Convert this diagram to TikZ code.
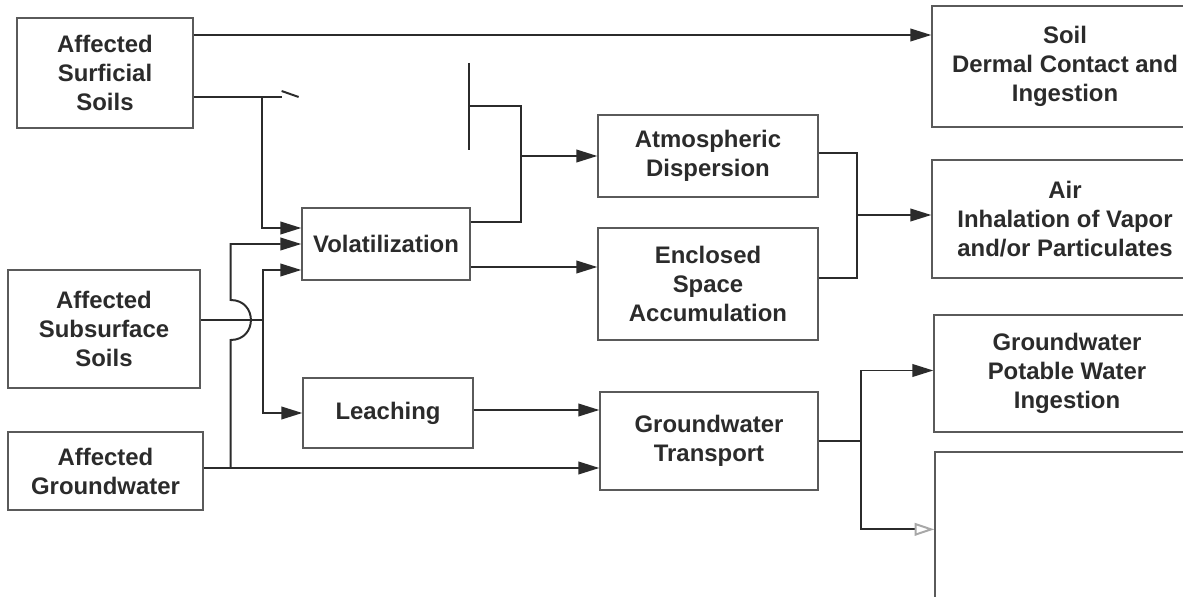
\documentclass[tikz,border=0pt]{standalone}
\usepackage{fontspec}
\setmainfont{Liberation Sans}
\usetikzlibrary{arrows.meta,calc}
\definecolor{Ink}{HTML}{2B2B2B}
\definecolor{Frame}{HTML}{5A5A5A}
\definecolor{Faded}{HTML}{A8A8A8}
\tikzset{
  box/.style={draw=Frame,line width=0.9pt,font=\bfseries\fontsize{17}{20.6}\selectfont,text=Ink,align=center,inner sep=0pt},
  link/.style={draw=Ink,line width=1.4pt},
  flow/.style={link,-{Triangle[length=15pt,width=9pt]}},
  fadeflow/.style={link,-{Triangle[open,length=14pt,width=9pt,color=Faded]}},
}

\begin{document}
\begin{tikzpicture}[x=0.025cm,y=-0.025cm,line join=miter]

% Page
\fill[white] (0,0) rectangle (1183,597);
\useasboundingbox (0,0) rectangle (1183,597);

% Sources
\node[box,minimum width=4.40cm,minimum height=2.75cm] (surf) at (105,73)
  {Affected\\Surficial\\Soils};
\node[box,minimum width=4.80cm,minimum height=2.95cm] (subs) at (104,329)
  {Affected\\Subsurface\\Soils};
\node[box,minimum width=4.875cm,minimum height=1.95cm] (affgw) at (105.5,471)
  {Affected\\Groundwater};

% Release mechanisms
\node[box,minimum width=4.20cm,minimum height=1.80cm] (vol) at (386,244) {Volatilization};
\node[box,minimum width=4.25cm,minimum height=1.75cm] (leach) at (388,413) {Leaching};

% Transport
\node[box,minimum width=5.50cm,minimum height=2.05cm] (atm) at (708,156)
  {Atmospheric\\Dispersion};
\node[box,minimum width=5.50cm,minimum height=2.80cm] (encl) at (708,284)
  {Enclosed\\Space\\Accumulation};
\node[box,minimum width=5.45cm,minimum height=2.45cm] (gwt) at (709,441)
  {Groundwater\\Transport};

% Exposure pathways (right column runs off the page)
\node[box,minimum width=6.65cm,minimum height=3.025cm] (soil) at (1065,66.5)
  {Soil\\Dermal Contact and\\Ingestion};
\node[box,minimum width=6.65cm,minimum height=2.95cm] (air) at (1065,219)
  {Air\\Inhalation of Vapor\\and/or Particulates};
\node[box,minimum width=6.65cm,minimum height=2.925cm] (gwpot) at (1067,373.5)
  {Groundwater\\Potable Water\\Ingestion};
\node[box,minimum width=6.65cm,minimum height=4.25cm] (fadebox) at (1068,537) {};

% Junctions
\coordinate (jB) at ($(atm.west)+(-76,0)$);
\coordinate (jC) at ($(air.west)+(-74,-4)$);
\coordinate (jD) at ($(subs.east)+(62,-9)$);
\coordinate (jE) at ($(subs.east)+(30,-9)$);
\coordinate (jF) at ($(gwt.east)+(42,0)$);

% Surficial soils
\draw[flow] ($(surf.east)+(0,-38)$) coordinate (s1) -- (s1 -| soil.west);
\draw[link] ($(surf.east)+(0,24)$) coordinate (s2) -- ++(88,0);
\draw[link] ($(s2)+(88,-6)$) -- ++(17,6);
\draw[flow] ($(s2)+(68,0)$) |- ($(vol.west)+(0,-16)$);

% Faded box edge and its outlet
\draw[link] (469,63) -- (469,150);
\draw[link] (469,106) -| (jB);
\draw[link] ($(vol.east)+(0,-22)$) -| (jB);
\draw[flow] (jB) -- (atm.west);
\draw[flow] ($(vol.east)+(0,23)$) coordinate (v2) -- (v2 -| encl.west);

% To air
\draw[link] ($(atm.east)+(0,-3)$) -| (jC);
\draw[link] ($(encl.east)+(0,-6)$) -| (jC);
\draw[flow] (jC) -- (jC -| air.west);

% Subsurface soils
\draw[link] ($(subs.east)+(0,-9)$) -- (jD);
\draw[flow] (jD) |- ($(vol.west)+(0,26)$);
\draw[flow] (jD) |- (leach.west);

% Groundwater (hops over the subsurface line)
\draw[flow] ($(affgw.east)+(0,-3)$) coordinate (g1) -- (g1 -| gwt.west);
\draw[flow] (g1 -| jE) -- ($(jE)+(0,20)$) .. controls +(27,0) and +(27,0) .. ($(jE)+(0,-20)$) |- (vol.west);
\draw[flow] ($(leach.east)+(0,-3)$) coordinate (l1) -- (l1 -| gwt.west);

% Groundwater transport
\draw[link] (gwt.east) -- (jF);
\draw[flow] (jF) |- ($(gwpot.west)+(0,-3)$);
\draw[fadeflow] (jF) |- ($(fadebox.north west)+(0,78)$);

\end{tikzpicture}
\end{document}
